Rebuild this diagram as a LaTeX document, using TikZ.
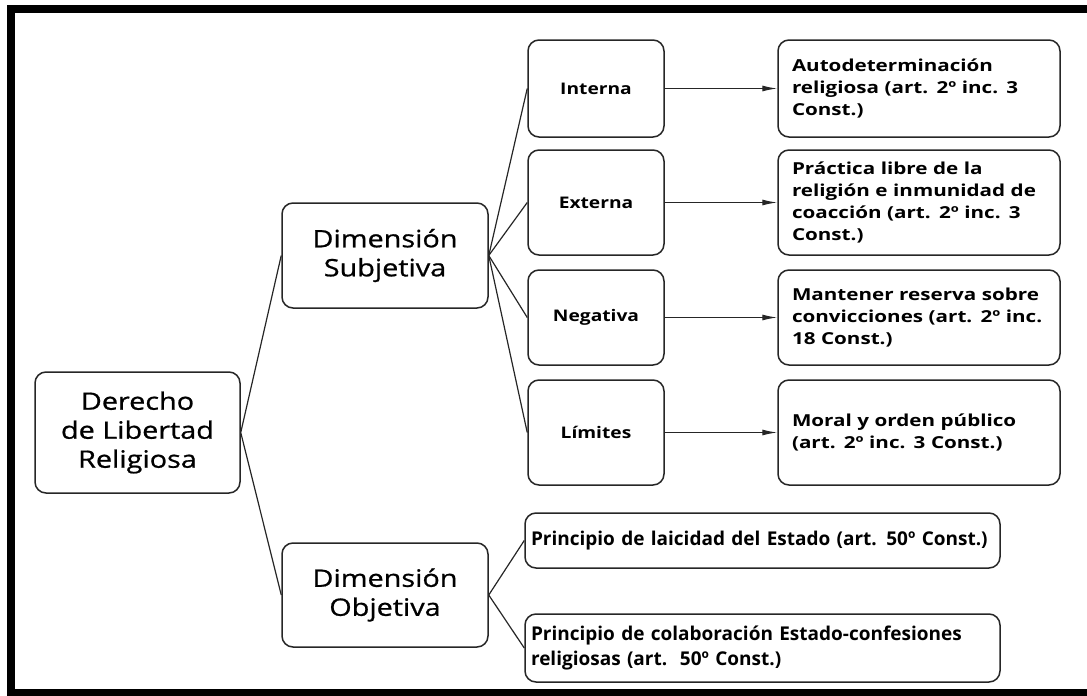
\documentclass[tikz,border=0pt]{standalone}
\usepackage{fontspec}
\setmainfont{Open Sans}
\newfontfamily\fbig[FakeStretch=1.2,FakeBold=0.8]{Open Sans}
\newfontfamily\fmid[FakeStretch=1.2]{Open Sans}
\newfontfamily\fsmall[FakeStretch=1.25]{Open Sans}
\newfontfamily\fprinc{Open Sans}
\hyphenpenalty=10000
\exhyphenpenalty=10000
\usetikzlibrary{arrows.meta}
\tikzset{
  box/.style={draw=black!85, line width=1.5pt, rounded corners=11pt, inner sep=4pt, align=center},
  bigtext/.style={font=\fbig\fontsize{24}{29}\selectfont},
  midtext/.style={font=\fmid\bfseries\fontsize{16}{20}\selectfont},
  smalltext/.style={font=\fsmall\bfseries\fontsize{16.5}{22}\selectfont, align=left, text width=254pt},
  princtext/.style={font=\fprinc\bfseries\fontsize{19}{25}\selectfont, align=left, text width=463pt},
  link/.style={draw=black!85, line width=1.2pt},
  arr/.style={draw=black!85, line width=1.2pt, -{Latex[length=15pt,width=6pt]}},
  frame/.style={draw=black, line width=8pt}
}
\begin{document}
\begin{tikzpicture}[x=1pt,y=-1pt]
\useasboundingbox (0,0) rectangle (1087,696);
% frame
\draw[frame] (1087,9) -- (11,9) -- (11,693) -- (1087,693);
% nodes
\node[box,bigtext,minimum width=205pt,minimum height=121pt] (root) at (137.5,432.5) {Derecho\\de Libertad\\Religiosa};
\node[box,bigtext,minimum width=206pt,minimum height=105pt] (dsub) at (385,255.5) {Dimensión\\Subjetiva};
\node[box,bigtext,minimum width=206pt,minimum height=104pt] (dobj) at (385,595) {Dimensión\\Objetiva};
\node[box,midtext,minimum width=136pt,minimum height=97pt] (int) at (596,88.5) {Interna};
\node[box,midtext,minimum width=136pt,minimum height=105pt] (ext) at (596,202.5) {Externa};
\node[box,midtext,minimum width=136pt,minimum height=95pt] (neg) at (596,317.5) {Negativa};
\node[box,midtext,minimum width=136pt,minimum height=105pt] (lim) at (596,432.5) {Límites};
\node[box,smalltext,minimum width=282pt,minimum height=97pt] (auto) at (919,88.5) {Autodeterminación\\religiosa (art. 2º inc. 3\\Const.)};
\node[box,smalltext,minimum width=282pt,minimum height=105pt] (prac) at (919,202.5) {Práctica libre de la\\religión e inmunidad de\\coacción (art. 2º inc. 3\\Const.)};
\node[box,smalltext,minimum width=282pt,minimum height=95pt] (mant) at (919,317.5) {Mantener reserva sobre\\convicciones (art. 2º inc.\\18 Const.)};
\node[box,smalltext,minimum width=282pt,minimum height=105pt] (moral) at (919,432.5) {Moral y orden público\\(art. 2º inc. 3 Const.)};
\node[box,princtext,minimum width=475pt,minimum height=55pt] (laic) at (762.5,540.5) {Principio de laicidad del Estado (art. 50º Const.)};
\node[box,princtext,minimum width=475pt,minimum height=68pt] (colab) at (762.5,648) {Principio de colaboración Estado-confesiones\\religiosas (art.\ \ 50º Const.)};
% connectors
\draw[link] (root.east) -- (dsub.west);
\draw[link] (root.east) -- (dobj.west);
\draw[link] (dsub.east) -- (int.west);
\draw[link] (dsub.east) -- (ext.west);
\draw[link] (dsub.east) -- (neg.west);
\draw[link] (dsub.east) -- (lim.west);
\draw[link] (dobj.east) -- (laic.west);
\draw[link] (dobj.east) -- (colab.west);
\draw[arr] (int.east) -- (auto.west);
\draw[arr] (ext.east) -- (prac.west);
\draw[arr] (neg.east) -- (mant.west);
\draw[arr] (lim.east) -- (moral.west);
\end{tikzpicture}
\end{document}
